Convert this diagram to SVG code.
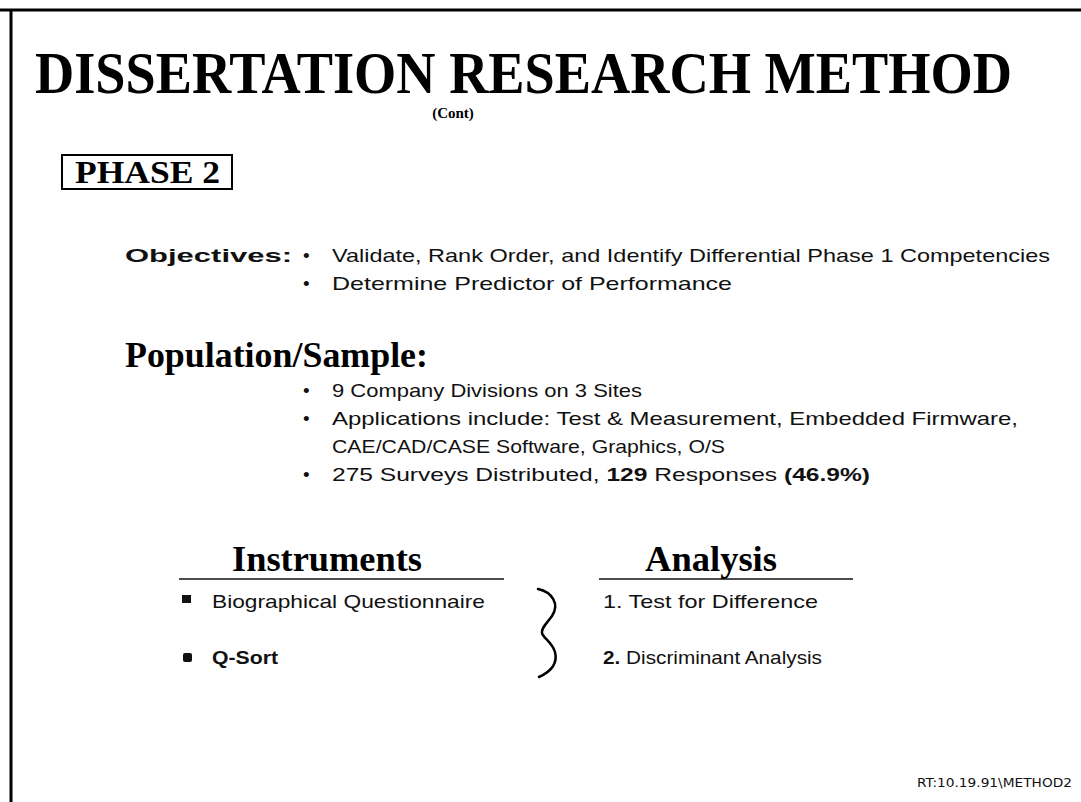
<svg xmlns="http://www.w3.org/2000/svg" width="1081" height="802" viewBox="0 0 1081 802">
  <style>
    .serif { font-family: "Liberation Serif", "Times New Roman", serif; font-weight: bold; fill: #000; }
    .sans { font-family: "Liberation Sans", Arial, sans-serif; fill: #111; font-size: 19px; }
    .bold { font-weight: bold; }
    .rule { stroke: #111; stroke-width: 1.5; fill: none; }
  </style>

  <!-- slide frame -->
  <rect width="1081" height="802" fill="#fff"/>
  <g id="frame" stroke="#000" fill="none">
    <line x1="0" y1="10" x2="1081" y2="10" stroke-width="3"/>
    <line x1="11" y1="10" x2="11" y2="802" stroke-width="3"/>
  </g>

  <!-- heading: condensed look made by stretching the glyphs vertically -->
  <g id="title">
    <text class="serif" transform="translate(35,93) scale(1,1.25)" x="0" y="0" font-size="48" textLength="977" lengthAdjust="spacingAndGlyphs">DISSERTATION RESEARCH METHOD</text>
    <text class="serif" x="453" y="118" font-size="15" text-anchor="middle">(Cont)</text>
  </g>

  <g id="phase">
    <rect x="62" y="155" width="170" height="34" fill="none" stroke="#000" stroke-width="2"/>
    <text class="serif" x="75" y="183" font-size="31" textLength="145" lengthAdjust="spacingAndGlyphs">PHASE 2</text>
  </g>

  <!-- objectives -->
  <g id="objectives">
    <text class="sans bold" x="125" y="262" font-size="20" textLength="167" lengthAdjust="spacingAndGlyphs">Objectives:</text>
    <text class="sans" x="303" y="262">•</text>
    <text class="sans" x="332" y="262" textLength="718" lengthAdjust="spacingAndGlyphs">Validate, Rank Order, and Identify Differential Phase 1 Competencies</text>
    <text class="sans" x="303" y="290">•</text>
    <text class="sans" x="332" y="290" textLength="400" lengthAdjust="spacingAndGlyphs">Determine Predictor of Performance</text>
  </g>

  <!-- population / sample -->
  <g id="population">
    <text class="serif" x="125" y="367" font-size="36" textLength="303" lengthAdjust="spacingAndGlyphs">Population/Sample:</text>
    <text class="sans" x="303" y="397">•</text>
    <text class="sans" x="332" y="397" textLength="310" lengthAdjust="spacingAndGlyphs">9 Company Divisions on 3 Sites</text>
    <text class="sans" x="303" y="425">•</text>
    <text class="sans" x="332" y="425" textLength="686" lengthAdjust="spacingAndGlyphs">Applications include: Test &amp; Measurement, Embedded Firmware,</text>
    <text class="sans" x="332" y="453" textLength="393" lengthAdjust="spacingAndGlyphs">CAE/CAD/CASE Software, Graphics, O/S</text>
    <text class="sans" x="303" y="481">•</text>
    <text class="sans" x="332" y="481" textLength="538" lengthAdjust="spacingAndGlyphs">275 Surveys Distributed, <tspan class="bold">129</tspan> Responses  <tspan class="bold">(46.9%)</tspan></text>
  </g>

  <!-- instruments column -->
  <g id="instruments">
    <text class="serif" x="232" y="571" font-size="36" textLength="190" lengthAdjust="spacingAndGlyphs">Instruments</text>
    <line class="rule" x1="179" y1="579" x2="504" y2="579"/>
    <rect x="182" y="595" width="9" height="8" fill="#111"/>
    <text class="sans" x="212" y="608" textLength="273" lengthAdjust="spacingAndGlyphs">Biographical Questionnaire</text>
    <rect x="183" y="653" width="9" height="9" rx="2" fill="#111"/>
    <text class="sans" x="212" y="664" font-weight="600" textLength="66" lengthAdjust="spacingAndGlyphs">Q-Sort</text>
  </g>

  <!-- brace linking instruments to analysis -->
  <g id="connectors">
    <path d="M538,589 C552,592 560,604 552,616 C547,623 541,628 542,633 C543,638 552,642 555,652 C558,664 550,672 539,677" fill="none" stroke="#000" stroke-width="2.5" stroke-linecap="round"/>
  </g>

  <!-- analysis column -->
  <g id="analysis">
    <text class="serif" x="645" y="571" font-size="36" textLength="132" lengthAdjust="spacingAndGlyphs">Analysis</text>
    <line class="rule" x1="599" y1="579" x2="853" y2="579"/>
    <text class="sans" x="603" y="608" textLength="215" lengthAdjust="spacingAndGlyphs">1. Test for Difference</text>
    <text class="sans" x="603" y="664" textLength="219" lengthAdjust="spacingAndGlyphs"><tspan class="bold">2.</tspan> Discriminant Analysis</text>
  </g>

  <!-- file reference -->
  <g id="footer">
    <text x="917" y="787" font-family="'DejaVu Sans', sans-serif" font-size="13" fill="#111" textLength="155" lengthAdjust="spacingAndGlyphs">RT:10.19.91\METHOD2</text>
  </g>
</svg>
